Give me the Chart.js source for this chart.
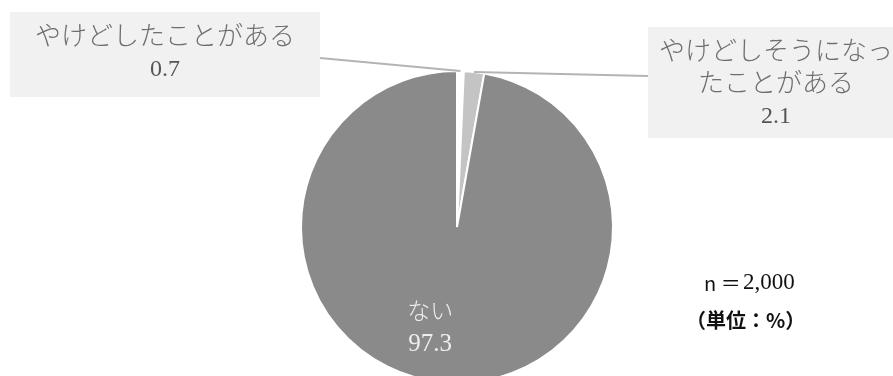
<!DOCTYPE html>
<html>
<head>
<meta charset="utf-8">
<script src="https://cdn.jsdelivr.net/npm/chart.js@4.4.0/dist/chart.umd.min.js"></script>
<style>
  body { margin: 0; background: #fff; }
  #wrap { width: 893px; height: 376px; overflow: hidden; position: relative; }
</style>
</head>
<body>
<div id="wrap"><canvas id="c" width="893" height="400"></canvas></div>
<script>
const labels = ["やけどしたことがある", "やけどしそうになったことがある", "ない"];
const values = [0.7, 2.1, 97.3];
const colors = ["#ffffff", "#c4c4c4", "#8a8a8a"];
const sampleNote = "2,000";
const unitNote = "（単位：%）";

const JP = '"Noto Sans CJK JP", "Noto Sans", sans-serif';
const SERIF = '"Liberation Serif", "DejaVu Serif", serif';

// call-out boxes for the two small slices
const callouts = [
  { idx: 0, box: [10, 12, 310, 85], lines: ["やけどしたことがある"], anchorX: 320, anchorY: 58 },
  { idx: 1, box: [648, 27, 260, 111], lines: ["やけどしそうになっ", "たことがある"], anchorX: 648, anchorY: 76 }
];

const labelPlugin = {
  id: "labels",
  afterDatasetsDraw(chart) {
    const ctx = chart.ctx;
    const meta = chart.getDatasetMeta(0);
    ctx.save();

    callouts.forEach(c => {
      const arc = meta.data[c.idx];
      const mid = (arc.startAngle + arc.endAngle) / 2;
      const px = arc.x + Math.cos(mid) * arc.outerRadius;
      const py = arc.y + Math.sin(mid) * arc.outerRadius;

      ctx.strokeStyle = "#b4b4b4";
      ctx.lineWidth = 2;
      ctx.beginPath();
      ctx.moveTo(c.anchorX, c.anchorY);
      ctx.lineTo(px, py);
      ctx.stroke();

      const [bx, by, bw, bh] = c.box;
      ctx.fillStyle = "#f1f1f1";
      ctx.fillRect(bx, by, bw, bh);

      const cx = c.idx === 0 ? 165 : 776;
      ctx.fillStyle = "#6e6e6e";
      ctx.textAlign = "center";
      ctx.textBaseline = "middle";
      ctx.font = "300 26px " + JP;
      let y = c.idx === 0 ? 35 : 50;
      c.lines.forEach(t => {
        ctx.fillText(t, cx, y);
        y += 32;
      });
      ctx.fillStyle = "#555";
      ctx.font = "24px " + SERIF;
      ctx.fillText(values[c.idx].toFixed(1), cx, y + 3);
    });

    // label inside the big slice
    const big = meta.data[2];
    const m = (big.startAngle + big.endAngle) / 2;
    const lx = big.x + Math.cos(m) * big.outerRadius * 0.64 - 18;
    const ly = big.y + Math.sin(m) * big.outerRadius * 0.64;
    ctx.fillStyle = "#eeeeee";
    ctx.textAlign = "center";
    ctx.textBaseline = "middle";
    ctx.font = "300 23px " + JP;
    ctx.fillText(labels[2], lx, ly - 16);
    ctx.font = "25px " + SERIF;
    ctx.fillText(values[2].toFixed(1), lx, ly + 18);

    // notes
    ctx.fillStyle = "#111";
    ctx.textAlign = "left";
    ctx.font = "20px " + JP;
    ctx.fillText("n ＝", 704, 283);
    ctx.font = "23px " + SERIF;
    ctx.fillText(sampleNote, 743, 283);
    ctx.font = "bold 20px " + JP;
    ctx.fillText(unitNote, 686, 320);
    ctx.restore();
  }
};

new Chart(document.getElementById("c"), {
  type: "pie",
  data: {
    labels: labels,
    datasets: [{
      data: values,
      backgroundColor: colors,
      borderColor: "#ffffff",
      borderWidth: 2
    }]
  },
  options: {
    responsive: false,
    animation: false,
    rotation: 0,
    layout: { padding: { left: 21, right: 0, top: 70, bottom: 16 } },
    plugins: {
      legend: { display: false },
      tooltip: { enabled: false }
    }
  },
  plugins: [labelPlugin]
});
</script>
</body>
</html>
